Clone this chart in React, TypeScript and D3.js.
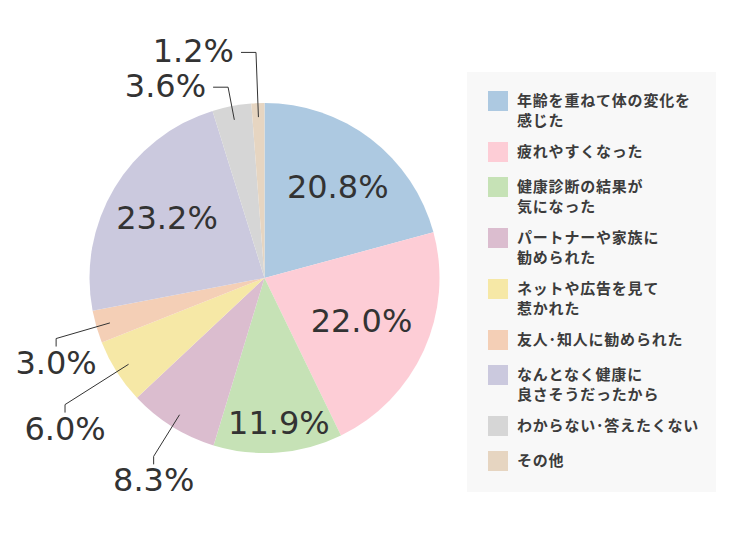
import React from "react";
import * as d3 from "d3";

const categories = [
  "年齢を重ねて体の変化を\n感じた",
  "疲れやすくなった",
  "健康診断の結果が\n気になった",
  "パートナーや家族に\n勧められた",
  "ネットや広告を見て\n惹かれた",
  "友人･知人に勧められた",
  "なんとなく健康に\n良さそうだったから",
  "わからない･答えたくない",
  "その他",
];
const values = [20.8, 22.0, 11.9, 8.3, 6.0, 3.0, 23.2, 3.6, 1.2];
const colors = [
  "#adc9e1",
  "#fdcdd6",
  "#c6e2b6",
  "#dbbdcf",
  "#f6e8a6",
  "#f4cfb6",
  "#cbc9de",
  "#d6d6d6",
  "#e6d5c1",
];

const W = 750;
const H = 540;
const cx = 264.5;
const cy = 278;
const R = 175;

// label layout rules (render-side)
const innerRadius: Record<number, number> = { 0: 0.66, 1: 0.59, 2: 0.83, 6: 0.67 };
const outerElbow: Record<number, number> = { 3: 1.2, 4: 1.35, 5: 1.24, 7: 1.11, 8: 1.29 };

export default function App() {
  const pie = d3
    .pie<number>()
    .sort(null)
    .value((d) => d);
  const arcs = pie(values);
  const arc = d3.arc<d3.PieArcDatum<number>>().innerRadius(0).outerRadius(R);

  const pt = (a: number, r: number): [number, number] => [
    Math.sin(a) * r,
    -Math.cos(a) * r,
  ];

  const fmt = (v: number) => `${v.toFixed(1)}%`;

  const legendX = 467;
  const legendY = 72;
  const legendW = 249;
  const legendH = 420;
  let yCursor = 91;
  const legendItems = categories.map((c, i) => {
    const lines = c.split("\n");
    const top = yCursor;
    yCursor += lines.length * 16 + 19;
    return { lines, top, color: colors[i] };
  });

  const pctFont = "'DejaVu Sans', sans-serif";

  return (
    <svg
      width={W}
      height={H}
      viewBox={`0 0 ${W} ${H}`}
      style={{ position: "absolute", left: 0, top: 0, background: "#fff" }}
    >
      <g transform={`translate(${cx},${cy})`}>
        {arcs.map((a, i) => (
          <path key={i} d={arc(a) || ""} fill={colors[i]} />
        ))}
        {arcs.map((a, i) => {
          const mid = (a.startAngle + a.endAngle) / 2;
          if (innerRadius[i] !== undefined) {
            const [x, y] = pt(mid, R * innerRadius[i]);
            return (
              <text
                key={"l" + i}
                x={x + 3}
                y={y + 11.5}
                textAnchor="middle"
                fontFamily={pctFont}
                fontSize={32}
                fill="#333"
              >
                {fmt(values[i])}
              </text>
            );
          }
          const [x0, y0] = pt(mid, R * 0.92);
          const [x1, y1] = pt(mid, R * outerElbow[i]);
          const top = Math.cos(mid) > 0.7;
          if (top) {
            const x2 = x1 - 15;
            return (
              <g key={"l" + i}>
                <polyline
                  points={`${x0},${y0} ${x1},${y1} ${x2},${y1}`}
                  fill="none"
                  stroke="#333"
                  strokeWidth={1}
                />
                <text
                  x={x2 - 7}
                  y={y1 + 10}
                  textAnchor="end"
                  fontFamily={pctFont}
                  fontSize={32}
                  fill="#333"
                >
                  {fmt(values[i])}
                </text>
              </g>
            );
          }
          const y2 = y1 + 8;
          return (
            <g key={"l" + i}>
              <polyline
                points={`${x0},${y0} ${x1},${y1} ${x1},${y2}`}
                fill="none"
                stroke="#333"
                strokeWidth={1}
              />
              <text
                x={x1}
                y={y2 + 27}
                textAnchor="middle"
                fontFamily={pctFont}
                fontSize={32}
                fill="#333"
              >
                {fmt(values[i])}
              </text>
            </g>
          );
        })}
      </g>

      <rect x={legendX} y={legendY} width={legendW} height={legendH} fill="#f8f8f8" />
      {legendItems.map((it, i) => (
        <g key={"lg" + i}>
          <rect x={488} y={it.top} width={20} height={20} fill={it.color} />
          <text
            fontFamily="'Noto Sans CJK JP', sans-serif"
            fontSize={15}
            fontWeight={700}
            letterSpacing={0.8}
            fill="#3c3c3c"
          >
            {it.lines.map((ln, j) => (
              <tspan key={j} x={517} y={it.top + 15 + j * 20}>
                {ln}
              </tspan>
            ))}
          </text>
        </g>
      ))}
    </svg>
  );
}
